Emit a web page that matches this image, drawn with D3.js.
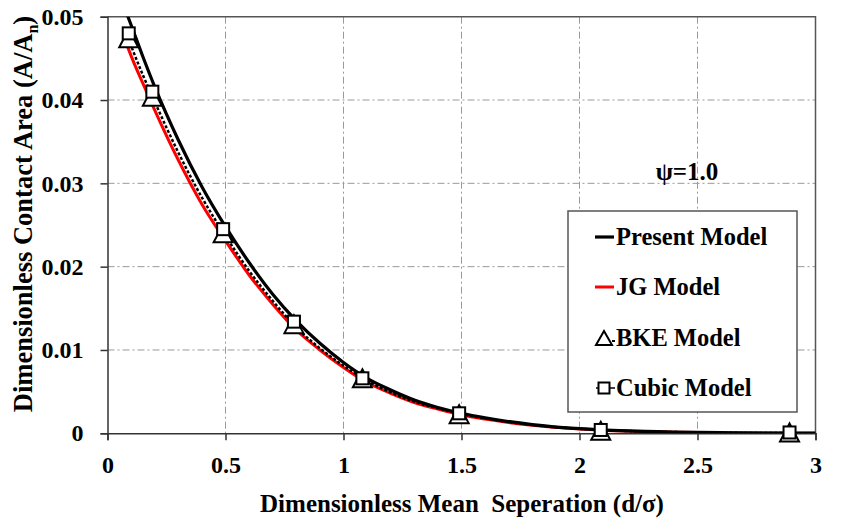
<!DOCTYPE html>
<html>
<head>
<meta charset="utf-8">
<script src="https://cdnjs.cloudflare.com/ajax/libs/d3/7.8.5/d3.min.js"></script>
<style>
  body { margin: 0; background: #fff; }
  text { font-family: "Liberation Serif", "Times New Roman", serif; font-weight: bold; }
</style>
</head>
<body>
<div id="chart"></div>
<script>
// separation values for the continuous model curves
var sepCurve = [0.08, 0.1, 0.15, 0.2, 0.3, 0.4, 0.5, 0.6, 0.7, 0.8, 0.9, 1.0, 1.1, 1.2, 1.3, 1.4, 1.5, 1.6, 1.8, 2.0, 2.2, 2.4, 2.6, 2.8, 3.0];
var presentModel = [0.0505, 0.0490, 0.0452, 0.0416, 0.0352, 0.0296, 0.0248, 0.0205, 0.0167, 0.0135, 0.0108, 0.0085, 0.0066, 0.0052, 0.0040, 0.0031, 0.0024, 0.00185, 0.00105, 0.00056, 0.00029, 0.00015, 0.00007, 0.00003, 0.00001];
var jgModel = [0.0468, 0.0453, 0.0420, 0.0388, 0.0328, 0.0275, 0.0231, 0.0190, 0.0155, 0.0124, 0.0100, 0.0079, 0.0061, 0.0048, 0.0037, 0.0029, 0.0022, 0.0017, 0.00098, 0.00053, 0.00027, 0.00014, 0.00006, 0.00003, 0.00001];
var bkeLine = [0.0480, 0.0465, 0.0430, 0.0398, 0.0337, 0.0283, 0.0237, 0.0195, 0.0159, 0.0127, 0.0102, 0.0081, 0.0063, 0.0049, 0.0038, 0.0030, 0.0023, 0.0018, 0.0010, 0.00054, 0.00028, 0.00015, 0.00007, 0.00003, 0.00001];

// marker points
var sepMarkers = [0.09, 0.19, 0.49, 0.79, 1.08, 1.49, 2.09, 2.89];
var bkeMarkers = [0.0474, 0.0404, 0.0240, 0.0131, 0.0066, 0.0023, 0.0003, 0.0001];
var cubicMarkers = [0.0480, 0.0410, 0.0245, 0.0134, 0.0066, 0.0024, 0.0004, 0.0001];

var xTicks = [0, 0.5, 1, 1.5, 2, 2.5, 3];
var yTicks = [0, 0.01, 0.02, 0.03, 0.04, 0.05];
var legendNames = ["Present Model", "JG Model", "BKE Model", "Cubic Model"];

var svgWidth = 841,
  svgHeight = 522,
  plotLeft = 107.5,
  plotRight = 815.5,
  plotTop = 16.7,
  plotBottom = 433.3,
  tickLen = 7,
  labelSize = 24,
  gridColor = "#9a9a9a",
  frameColor = "#555";

var svg = d3.select("#chart")
  .append("svg")
  .attr("width", svgWidth)
  .attr("height", svgHeight);

var x = d3.scaleLinear().domain([0, 3]).range([plotLeft, plotRight]);
var y = d3.scaleLinear().domain([0, 0.05]).range([plotBottom, plotTop]);

// grid lines (dash-dot)
svg.append("g")
  .selectAll("line")
  .data(xTicks.slice(1, -1))
  .enter()
  .append("line")
  .attr("x1", function(d) { return x(d); })
  .attr("x2", function(d) { return x(d); })
  .attr("y1", plotTop)
  .attr("y2", plotBottom)
  .attr("stroke", gridColor)
  .attr("stroke-width", 1)
  .attr("stroke-dasharray", "7,3,2,3");

svg.append("g")
  .selectAll("line")
  .data(yTicks.slice(1, -1))
  .enter()
  .append("line")
  .attr("x1", plotLeft)
  .attr("x2", plotRight)
  .attr("y1", function(d) { return y(d); })
  .attr("y2", function(d) { return y(d); })
  .attr("stroke", gridColor)
  .attr("stroke-width", 1)
  .attr("stroke-dasharray", "7,3,2,3");

// top and right frame
svg.append("path")
  .attr("d", "M" + plotLeft + "," + plotTop + "H" + plotRight + "V" + plotBottom)
  .attr("fill", "none")
  .attr("stroke", frameColor)
  .attr("stroke-width", 1.5);

// axes
var xAxis = d3.axisBottom(x)
  .tickValues(xTicks)
  .tickSize(tickLen)
  .tickFormat(function(d) { return d3.format("")(d); });
var yAxis = d3.axisLeft(y)
  .tickValues(yTicks)
  .tickSize(tickLen)
  .tickFormat(function(d) { return d === 0 ? "0" : d3.format(".2f")(d); });

var gx = svg.append("g")
  .attr("transform", "translate(0," + plotBottom + ")")
  .call(xAxis);
var gy = svg.append("g")
  .attr("transform", "translate(" + plotLeft + ",0)")
  .call(yAxis);

[gx, gy].forEach(function(g) {
  g.select(".domain").attr("stroke", "#333").attr("stroke-width", 1.5);
  g.selectAll(".tick line").attr("stroke", "#333").attr("stroke-width", 1.5);
  g.selectAll(".tick text")
    .attr("font-family", "Liberation Serif, Times New Roman, serif")
    .attr("font-weight", "bold")
    .attr("font-size", labelSize)
    .attr("fill", "#000");
});
gx.selectAll(".tick text").attr("y", 23);
gy.selectAll(".tick text").attr("x", -24);

// clip for curves
svg.append("clipPath")
  .attr("id", "plotClip")
  .append("rect")
  .attr("x", plotLeft)
  .attr("y", plotTop)
  .attr("width", plotRight - plotLeft)
  .attr("height", plotBottom - plotTop);

function curveOf(values) {
  return d3.line()
    .x(function(d, i) { return x(sepCurve[i]); })
    .y(function(d) { return y(d); })
    .curve(d3.curveMonotoneX)(values);
}

var curves = svg.append("g").attr("clip-path", "url(#plotClip)");

curves.append("path")
  .attr("d", curveOf(jgModel))
  .attr("fill", "none")
  .attr("stroke", "#ff0000")
  .attr("stroke-width", 3);

curves.append("path")
  .attr("d", curveOf(bkeLine))
  .attr("fill", "none")
  .attr("stroke", "#000")
  .attr("stroke-width", 2.5)
  .attr("stroke-dasharray", "3,2");

curves.append("path")
  .attr("d", curveOf(presentModel))
  .attr("fill", "none")
  .attr("stroke", "#000")
  .attr("stroke-width", 3.2);

var triPath = "M0,-9L9.5,9L-9.5,9Z";
var sqSize = 12;

svg.append("g")
  .selectAll("path")
  .data(bkeMarkers)
  .enter()
  .append("path")
  .attr("d", triPath)
  .attr("transform", function(d, i) { return "translate(" + x(sepMarkers[i]) + "," + y(d) + ")"; })
  .attr("fill", "#fff")
  .attr("stroke", "#000")
  .attr("stroke-width", 2);

svg.append("g")
  .selectAll("rect")
  .data(cubicMarkers)
  .enter()
  .append("rect")
  .attr("x", function(d, i) { return x(sepMarkers[i]) - sqSize / 2; })
  .attr("y", function(d) { return y(d) - sqSize / 2; })
  .attr("width", sqSize)
  .attr("height", sqSize)
  .attr("fill", "#fff")
  .attr("stroke", "#000")
  .attr("stroke-width", 2);

// psi label
svg.append("text")
  .attr("x", 687)
  .attr("y", 180)
  .attr("font-size", 25)
  .attr("text-anchor", "middle")
  .text("ψ=1.0");

// legend
var legendX = 568, legendY = 211, legendW = 229, legendH = 201;
svg.append("rect")
  .attr("x", legendX)
  .attr("y", legendY)
  .attr("width", legendW)
  .attr("height", legendH)
  .attr("fill", "#fff")
  .attr("stroke", frameColor)
  .attr("stroke-width", 1.5);

var rowY = [237, 287, 338, 388];
var symX = 604;

svg.append("line")
  .attr("x1", 595).attr("x2", 614)
  .attr("y1", rowY[0]).attr("y2", rowY[0])
  .attr("stroke", "#000").attr("stroke-width", 3.2);
svg.append("line")
  .attr("x1", 595).attr("x2", 614)
  .attr("y1", rowY[1]).attr("y2", rowY[1])
  .attr("stroke", "#ff0000").attr("stroke-width", 3);
svg.append("line")
  .attr("x1", 612).attr("x2", 615)
  .attr("y1", rowY[2] + 3).attr("y2", rowY[2] + 3)
  .attr("stroke", "#000").attr("stroke-width", 2);
svg.append("path")
  .attr("d", "M0,-7L8,7L-8,7Z")
  .attr("transform", "translate(" + symX + "," + rowY[2] + ")")
  .attr("fill", "#fff").attr("stroke", "#000").attr("stroke-width", 2);
svg.append("line")
  .attr("x1", 596).attr("x2", 615)
  .attr("y1", rowY[3]).attr("y2", rowY[3])
  .attr("stroke", "#000").attr("stroke-width", 1.5);
svg.append("rect")
  .attr("x", symX - 5.5).attr("y", rowY[3] - 5.5)
  .attr("width", 11).attr("height", 11)
  .attr("fill", "#fff").attr("stroke", "#000").attr("stroke-width", 2);

svg.selectAll("text.legendlabels")
  .data(legendNames)
  .enter()
  .append("text")
  .attr("class", "legendlabels")
  .attr("x", 616)
  .attr("y", function(d, i) { return rowY[i] + 8; })
  .attr("font-size", 24.5)
  .text(function(d) { return d; });

// axis titles
svg.append("text")
  .attr("x", 462)
  .attr("y", 512)
  .attr("font-size", 25)
  .attr("text-anchor", "middle")
  .style("white-space", "pre")
  .text("Dimensionless Mean  Seperation (d/σ)");

var yTitle = svg.append("text")
  .attr("transform", "translate(32,214) rotate(-90)")
  .attr("font-size", 26.5)
  .attr("text-anchor", "middle");
yTitle.append("tspan").text("Dimensionless Contact Area (A/A");
yTitle.append("tspan").attr("font-size", 16).attr("dy", 6).text("n");
yTitle.append("tspan").attr("dy", -6).text(")");
</script>
</body>
</html>
